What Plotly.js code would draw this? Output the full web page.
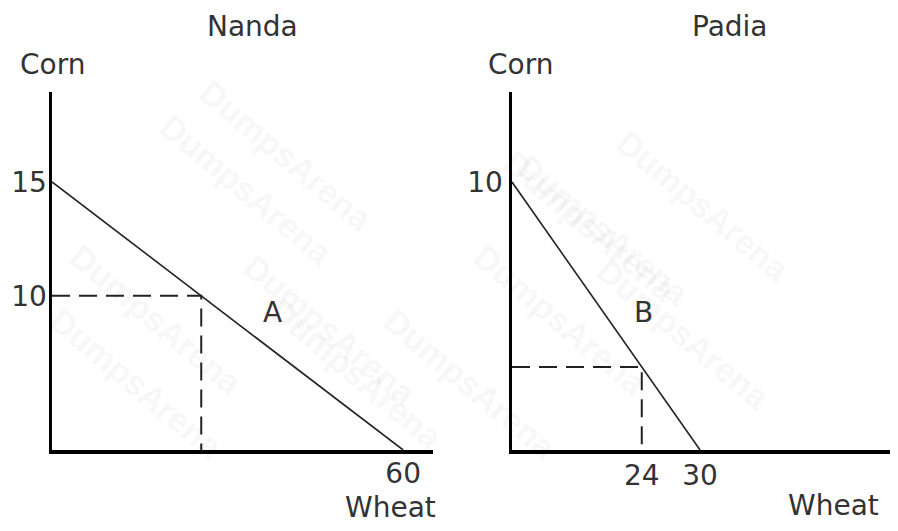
<!DOCTYPE html>
<html>
<head>
<meta charset="utf-8">
<script src="https://cdn.plot.ly/plotly-3.0.1.min.js"></script>
<style>html,body{margin:0;padding:0;background:#fff;}#chart{width:898px;height:531px;}</style>
</head>
<body>
<div id="chart"></div>
<script>
// Note: the original diagram is not drawn to scale; tick positions follow the picture.
// Nanda production possibilities frontier
const nandaWheat = [0, 60];
const nandaCorn = [15, 0];
const nandaPointWheat = 25.5;   // position of point on frontier (drawn)
const nandaPointCorn = 8.625;
const nandaXTickVals = [60];
const nandaXTickText = ['60'];
const nandaYTickVals = [8.625, 15];
const nandaYTickText = ['10', '15'];
const nandaLabel = {text: 'A', wheat: 37.6, corn: 7.7};

// Padia production possibilities frontier
const padiaWheat = [0, 30];
const padiaCorn = [10, 0];
const padiaPointWheat = 20.7;
const padiaPointCorn = 3.1;
const padiaXTickVals = [20.7, 30];
const padiaXTickText = ['24', '30'];
const padiaYTickVals = [10];
const padiaYTickText = ['10'];
const padiaLabel = {text: 'B', wheat: 20.9, corn: 5.15};

const FONT = 'DejaVu Sans, Liberation Sans, Arial, sans-serif';
const TXT = '#333333';
const W = 898, H = 531;
const px = v => v / W;
const py = v => 1 - v / H;

const traces = [
  {x: nandaWheat, y: nandaCorn, xaxis: 'x', yaxis: 'y', mode: 'lines',
   line: {color: '#222', width: 1.6}, hoverinfo: 'skip'},
  {x: [0, nandaPointWheat, nandaPointWheat], y: [nandaPointCorn, nandaPointCorn, 0],
   xaxis: 'x', yaxis: 'y', mode: 'lines',
   line: {color: '#222', width: 2, dash: '18px,9px'}, hoverinfo: 'skip'},
  {x: padiaWheat, y: padiaCorn, xaxis: 'x2', yaxis: 'y2', mode: 'lines',
   line: {color: '#222', width: 1.6}, hoverinfo: 'skip'},
  {x: [0, padiaPointWheat, padiaPointWheat], y: [padiaPointCorn, padiaPointCorn, 0],
   xaxis: 'x2', yaxis: 'y2', mode: 'lines',
   line: {color: '#222', width: 2, dash: '18px,9px'}, hoverinfo: 'skip'}
];

const axisBase = {
  showgrid: false, zeroline: false, showline: true, linecolor: '#000', linewidth: 3.5,
  ticks: '', tickmode: 'array', fixedrange: true,
  tickfont: {family: FONT, size: 28, color: TXT}
};

const watermarks = [
  [190, 70], [150, 190], [60, 320], [330, 330], [260, 460], [470, 470],
  [590, 140], [700, 230], [800, 120], [560, 320], [780, 420], [40, 470]
].map(([x, y]) => ({
  xref: 'paper', yref: 'paper', x: px(x), y: py(y), text: 'DumpsArena',
  showarrow: false, textangle: 40,
  font: {family: 'Liberation Sans, Arial, sans-serif', size: 34, color: 'rgba(0,0,0,0.055)', weight: 'bold'}
}));

const textAnn = (text, x, y) => ({
  xref: 'paper', yref: 'paper', x: px(x), y: py(y), text: text, showarrow: false,
  xanchor: 'center', yanchor: 'middle', font: {family: FONT, size: 28, color: TXT}
});

const layout = {
  width: W, height: H,
  margin: {l: 0, r: 0, t: 0, b: 0},
  paper_bgcolor: '#fff', plot_bgcolor: 'rgba(0,0,0,0)',
  showlegend: false,
  xaxis: Object.assign({}, axisBase, {domain: [px(52), px(433)], range: [0, 65.1], anchor: 'y',
    tickvals: nandaXTickVals, ticktext: nandaXTickText, ticklabelstandoff: -4}),
  yaxis: Object.assign({}, axisBase, {domain: [1 - 450 / H, 1 - 92 / H], range: [0, 20.03], anchor: 'x',
    tickvals: nandaYTickVals, ticktext: nandaYTickText, ticklabelstandoff: -4}),
  xaxis2: Object.assign({}, axisBase, {domain: [px(512), px(890)], range: [0, 60.3], anchor: 'y2',
    tickvals: padiaXTickVals, ticktext: padiaXTickText, ticklabelstandoff: -2}),
  yaxis2: Object.assign({}, axisBase, {domain: [1 - 450 / H, 1 - 92 / H], range: [0, 13.36], anchor: 'x2',
    tickvals: padiaYTickVals, ticktext: padiaYTickText, ticklabelstandoff: 0}),
  annotations: watermarks.concat([
    textAnn('Nanda', 252, 27),
    textAnn('Corn', 52, 64),
    textAnn('Wheat', 390, 507),
    textAnn('Padia', 730, 27),
    textAnn('Corn', 520, 64),
    textAnn('Wheat', 833, 505),
    {xref: 'x', yref: 'y', x: nandaLabel.wheat, y: nandaLabel.corn, text: nandaLabel.text, showarrow: false,
     font: {family: FONT, size: 28, color: TXT}},
    {xref: 'x2', yref: 'y2', x: padiaLabel.wheat, y: padiaLabel.corn, text: padiaLabel.text, showarrow: false,
     font: {family: FONT, size: 28, color: TXT}}
  ])
};

Plotly.newPlot('chart', traces, layout, {displayModeBar: false, staticPlot: true});
</script>
</body>
</html>
